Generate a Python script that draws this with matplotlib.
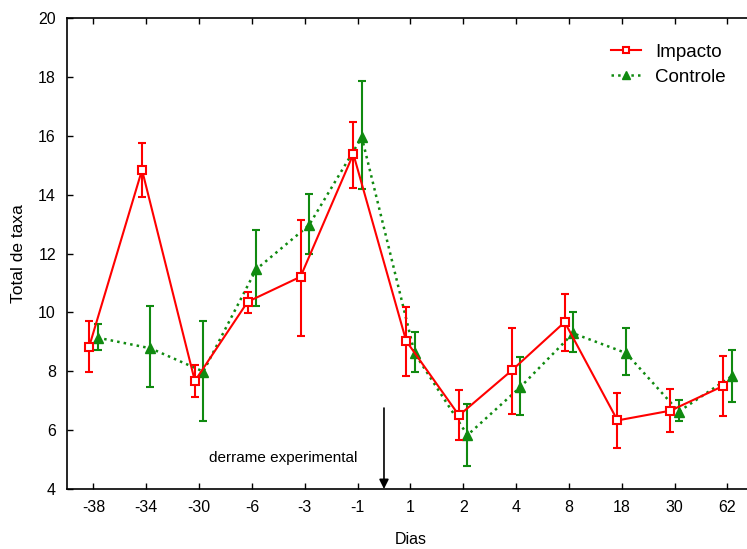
import matplotlib
matplotlib.use("Agg")
import matplotlib.pyplot as plt
from matplotlib.lines import Line2D
import numpy as np

plt.rcParams['font.family'] = ['Liberation Sans', 'DejaVu Sans']

dias = ["-38", "-34", "-30", "-6", "-3", "-1", "1", "2", "4", "8", "18", "30", "62"]

impacto = [8.84, 14.84, 7.67, 10.36, 11.21, 15.38, 9.03, 6.50, 8.03, 9.67, 6.33, 6.66, 7.50]
impacto_hi = [9.72, 15.76, 8.21, 10.70, 13.14, 16.47, 10.18, 7.35, 9.46, 10.64, 7.26, 7.40, 8.52]
impacto_lo = [7.97, 13.93, 7.14, 9.99, 9.21, 14.22, 7.83, 5.67, 6.55, 8.70, 5.40, 5.94, 6.49]

controle = [9.14, 8.78, 7.99, 11.46, 12.96, 15.95, 8.61, 5.83, 7.46, 9.29, 8.62, 6.63, 7.83]
controle_hi = [9.61, 10.22, 9.70, 12.81, 14.03, 17.86, 9.34, 6.88, 8.49, 10.01, 9.46, 7.04, 8.71]
controle_lo = [8.72, 7.48, 6.31, 10.22, 11.98, 14.19, 7.99, 4.79, 6.52, 8.67, 7.88, 6.30, 6.97]

fig = plt.figure(figsize=(7.47, 5.49), dpi=100)
ax = fig.add_axes([67/747, 60/549, 686.8/747, 471/549])

x = np.arange(len(dias))
off = 0.08
red = '#ff0000'
green = '#108a10'

imp = np.array(impacto); con = np.array(controle)
ax.errorbar(x - off, imp, yerr=[imp - np.array(impacto_lo), np.array(impacto_hi) - imp],
            color=red, lw=1.5, marker='s', ms=6, mfc='white', mec=red, mew=1.5,
            capsize=3, elinewidth=1.5, capthick=1.5, zorder=3)
ax.errorbar(x + off, con, yerr=[con - np.array(controle_lo), np.array(controle_hi) - con],
            color=green, lw=1.8, ls=':', marker='^', ms=6.5, mfc=green, mec=green,
            capsize=3, elinewidth=1.5, capthick=1.5, zorder=2)

ax.set_xlim(-0.5, 12.5)
ax.set_ylim(4, 20)
ax.set_xticks(x)
ax.set_xticklabels(dias)
ax.set_yticks(np.arange(4, 21, 2))
ax.tick_params(direction='in', length=4, width=1, labelsize=11.5, top=True, pad=8)
for s in ['left', 'bottom', 'top', 'right']:
    ax.spines[s].set_linewidth(1.2)

ax.set_xlabel('Dias', fontsize=11.5, labelpad=12)
ax.set_ylabel('Total de taxa', fontsize=12.5, labelpad=9)

ax.annotate('', xy=(5.5, 4), xytext=(5.5, 6.75),
            arrowprops=dict(arrowstyle='-|>', color='black', lw=1.2, mutation_scale=14, shrinkA=0, shrinkB=0))
ax.text(5.0, 5.05, 'derrame experimental', ha='right', va='center', fontsize=11)

handles = [
    Line2D([], [], color=red, lw=1.5, marker='s', ms=5, mfc='white', mec=red, mew=1.5),
    Line2D([], [], color=green, lw=1.8, ls=':', marker='^', ms=6, mfc=green, mec=green),
]
ax.legend(handles, ['Impacto', 'Controle'], loc='upper right',
          bbox_to_anchor=(743/747, 522/549), bbox_transform=fig.transFigure,
          frameon=False, fontsize=13.5, handlelength=1.6, handletextpad=0.8, labelspacing=0.42)

fig.savefig('out.png', dpi=100)
